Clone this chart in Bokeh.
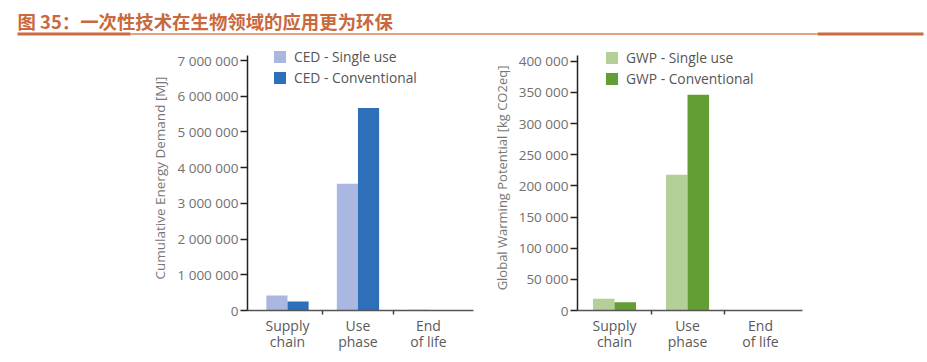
from bokeh.plotting import figure
from bokeh.models import Range1d, FixedTicker, ColumnDataSource, Legend, LegendItem
from bokeh.layouts import column, row
from bokeh.transform import dodge
from bokeh.core.properties import value
from bokeh.embed import file_html
from bokeh.resources import INLINE

# ---------------- data ----------------
title_text = "图 35：一次性技术在生物领域的应用更为环保"
categories = ["Supply\nchain", "Use\nphase", "End\nof life"]

ced_single = [420000, 3550000, 20000]
ced_conventional = [250000, 5670000, 10000]
ced_ticks = [0, 1000000, 2000000, 3000000, 4000000, 5000000, 6000000, 7000000]
ced_tick_labels = ["0", "1 000 000", "2 000 000", "3 000 000", "4 000 000",
                   "5 000 000", "6 000 000", "7 000 000"]

gwp_single = [18800, 217700, 600]
gwp_conventional = [13300, 346000, 400]
gwp_ticks = [0, 50000, 100000, 150000, 200000, 250000, 300000, 350000, 400000]
gwp_tick_labels = ["0", "50 000", "100 000", "150 000", "200 000", "250 000",
                   "300 000", "350 000", "400 000"]

FONT = "Open Sans"
CJK = "Noto Sans CJK SC"

# ---------------- header ----------------
hdr = figure(width=927, height=40, x_range=Range1d(0, 927), y_range=Range1d(40, 0),
             output_backend="svg", toolbar_location=None, min_border=0,
             x_axis_type=None, y_axis_type=None, title=None)
hdr.grid.visible = False
hdr.outline_line_color = None
hdr.text(x=[17], y=[20.5], text=[title_text], text_font=value(CJK), text_font_style="bold",
         text_font_size="18.4px", text_color="#c8693e", text_baseline="middle")
hdr.segment(x0=[130], y0=[33.5], x1=[817], y1=[33.5], line_color="#e0a283", line_width=2)
hdr.segment(x0=[17, 817], y0=[33.5, 33.5], x1=[130, 923], y1=[33.5, 33.5],
            line_color="#c96b43", line_width=3)


def make_chart(frame_w, border_left, border_right, xstart, xend, yend, ybound, bar_w,
               single, conv, ticks, tick_labels, colors, names, ylabel, label_size, legend_xy):
    xs = list(range(len(categories)))
    src = ColumnDataSource(dict(x=xs, single=single, conv=conv))
    p = figure(frame_width=frame_w, frame_height=265,
               x_range=Range1d(xstart, xend), y_range=Range1d(0, yend),
               output_backend="svg", toolbar_location=None, title=None,
               min_border_left=border_left, min_border_right=border_right,
               min_border_top=5, min_border_bottom=40)
    p.grid.visible = False
    p.outline_line_color = None
    r1 = p.vbar(x=dodge("x", -bar_w / 2, range=p.x_range), top="single", width=bar_w,
                source=src, fill_color=colors[0], line_color=None)
    r2 = p.vbar(x=dodge("x", bar_w / 2, range=p.x_range), top="conv", width=bar_w,
                source=src, fill_color=colors[1], line_color=None)

    # y axis
    ya = p.yaxis[0]
    ya.bounds = (0, ybound)
    ya.ticker = FixedTicker(ticks=ticks)
    ya.major_label_overrides = {t: l for t, l in zip(ticks, tick_labels)}
    ya.axis_line_color = "#222222"
    ya.axis_line_width = 1.5
    ya.major_tick_line_color = "#222222"
    ya.major_tick_line_width = 1.5
    ya.major_tick_out = 7
    ya.major_tick_in = 0
    ya.minor_tick_line_color = None
    ya.major_label_standoff = 2
    ya.major_label_text_font = FONT
    ya.major_label_text_font_size = "13.5px"
    ya.major_label_text_color = "#707070"
    ya.axis_label = ylabel
    ya.axis_label_text_font = FONT
    ya.axis_label_text_font_size = label_size
    ya.axis_label_text_font_style = "normal"
    ya.axis_label_text_color = "#777777"
    ya.axis_label_standoff = 5

    # x axis
    xa = p.xaxis[0]
    xa.ticker = FixedTicker(ticks=xs, minor_ticks=[i + 0.5 for i in xs[:-1]])
    xa.major_label_overrides = {i: c for i, c in zip(xs, categories)}
    xa.axis_line_color = "#555555"
    xa.axis_line_width = 1.5
    xa.major_tick_line_color = None
    xa.major_tick_out = 0
    xa.major_tick_in = 0
    xa.minor_tick_line_color = "#444444"
    xa.minor_tick_line_width = 1.5
    xa.minor_tick_out = 4
    xa.minor_tick_in = 0
    xa.major_label_standoff = 1
    xa.major_label_text_font = FONT
    xa.major_label_text_font_size = "14px"
    xa.major_label_text_line_height = 0.87
    xa.major_label_text_color = "#5a5a5a"

    legend = Legend(items=[LegendItem(label=names[0], renderers=[r1]),
                           LegendItem(label=names[1], renderers=[r2])],
                    location=legend_xy, padding=0, margin=0, spacing=2,
                    glyph_width=15, glyph_height=15, label_height=15, label_standoff=7,
                    label_text_font=FONT, label_text_font_size="13.8px",
                    label_text_color="#555555", border_line_color=None,
                    background_fill_alpha=0)
    p.add_layout(legend, "center")
    return p


left = make_chart(226, 247, 7, -0.567, 2.639, 7.42e6, 7.14e6, 0.30,
                  ced_single, ced_conventional, ced_ticks, ced_tick_labels,
                  ["#aab7e0", "#2e6fba"], ["CED - Single use", "CED - Conventional"],
                  "Cumulative Energy Demand [MJ]", "13.5px", (25, 223))
right = make_chart(225, 97, 125, -0.507, 2.575, 425200, 409200, 0.295,
                   gwp_single, gwp_conventional, gwp_ticks, gwp_tick_labels,
                   ["#b4cf98", "#629e33"], ["GWP - Single use", "GWP - Conventional"],
                   "Global Warming Potential [kg CO2eq]", "13px", (27, 222))

layout = column(hdr, row(left, right, spacing=0), spacing=0)
open("out.html", "w").write(file_html(layout, INLINE))
